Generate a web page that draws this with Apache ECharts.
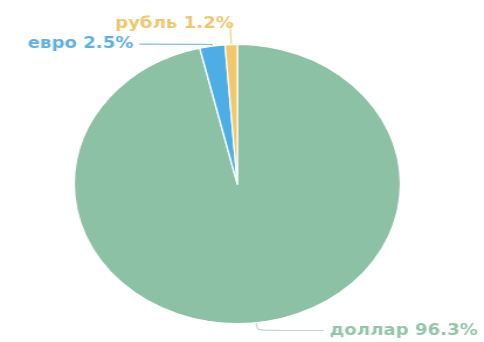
<!DOCTYPE html>
<html>
<head>
<meta charset="utf-8">
<script src="https://cdn.jsdelivr.net/npm/echarts@6/dist/echarts.min.js"></script>
<style>
html,body{margin:0;padding:0;background:#fff;overflow:hidden;width:484px;height:342px;}
#chart{width:414px;height:342px;transform:scaleX(1.169);transform-origin:0 0;}
</style>
</head>
<body>
<div id="chart"></div>
<script>
const categories = ['доллар', 'евро', 'рубль'];
const values = [96.3, 2.5, 1.2];
const colors = ['#8dc1a5', '#4daee6', '#f3c86c'];
const labelColors = ['#93c5aa', '#5eb0e2', '#eec76c'];
const lineColors = ['#c9d6ce', '#7cbde6', '#f0cf85'];
const lineLen = [8, 2, 21];
const lineLen2 = [57, 62, 0];
const labelGap = [5, 5, -3];

const chart = echarts.init(document.getElementById('chart'), null, {renderer: 'canvas'});
chart.setOption({
  animation: false,
  series: [{
    type: 'pie',
    center: [203, 184],
    radius: 139.5,
    startAngle: 90,
    clockwise: true,
    avoidLabelOverlap: false,
    itemStyle: {borderColor: '#fff', borderWidth: 1.2},
    label: {
      formatter: function (p) { return p.name + ' ' + values[p.dataIndex] + '%'; },
      fontFamily: 'DejaVu Sans',
      fontWeight: 'bold',
      fontSize: 15.5,
      overflow: 'none'
    },
    labelLine: {smooth: 0.3, lineStyle: {width: 1.2}},
    data: categories.map(function (c, i) {
      return {
        name: c,
        value: values[i],
        itemStyle: {color: colors[i]},
        label: {color: labelColors[i], distanceToLabelLine: labelGap[i]},
        labelLine: {length: lineLen[i], length2: lineLen2[i], lineStyle: {color: lineColors[i]}}
      };
    })
  }]
});
</script>
</body>
</html>
